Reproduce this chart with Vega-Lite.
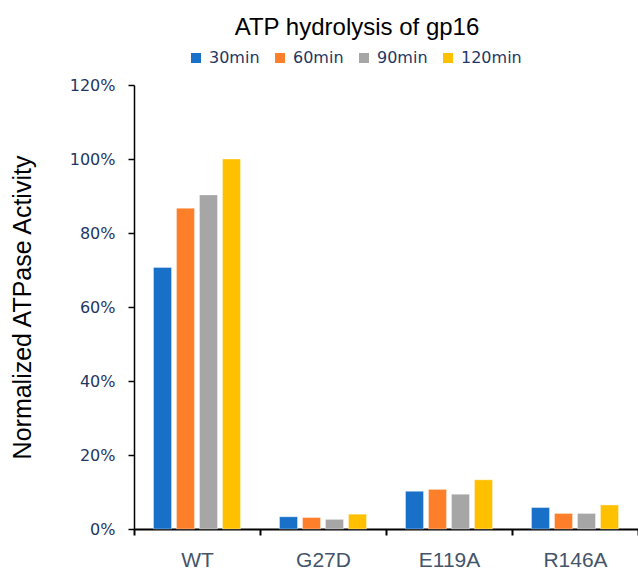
{
  "$schema": "https://vega.github.io/schema/vega-lite/v6.json",
  "width": 504,
  "height": 444,
  "autosize": {"type": "none"},
  "padding": {"left": 134, "top": 85, "right": 0, "bottom": 43},
  "background": "white",
  "title": {
    "text": "ATP hydrolysis of gp16",
    "font": "Liberation Sans",
    "fontSize": 24,
    "fontWeight": "normal",
    "color": "#000000",
    "anchor": "middle",
    "dx": -29,
    "offset": 10
  },
  "data": {
    "values": [
      {"mutant": "WT", "time": "30min", "activity": 0.707},
      {"mutant": "WT", "time": "60min", "activity": 0.867},
      {"mutant": "WT", "time": "90min", "activity": 0.903},
      {"mutant": "WT", "time": "120min", "activity": 1.0},
      {"mutant": "G27D", "time": "30min", "activity": 0.033},
      {"mutant": "G27D", "time": "60min", "activity": 0.031},
      {"mutant": "G27D", "time": "90min", "activity": 0.026},
      {"mutant": "G27D", "time": "120min", "activity": 0.040},
      {"mutant": "E119A", "time": "30min", "activity": 0.102},
      {"mutant": "E119A", "time": "60min", "activity": 0.107},
      {"mutant": "E119A", "time": "90min", "activity": 0.094},
      {"mutant": "E119A", "time": "120min", "activity": 0.133},
      {"mutant": "R146A", "time": "30min", "activity": 0.058},
      {"mutant": "R146A", "time": "60min", "activity": 0.042},
      {"mutant": "R146A", "time": "90min", "activity": 0.042},
      {"mutant": "R146A", "time": "120min", "activity": 0.065}
    ]
  },
  "mark": {"type": "bar", "stroke": "#ffffff", "strokeWidth": 0.6, "strokeOpacity": 0.6},
  "encoding": {
    "x": {
      "field": "mutant",
      "type": "nominal",
      "sort": ["WT", "G27D", "E119A", "R146A"],
      "scale": {"paddingInner": 0, "paddingOuter": 0},
      "axis": {
        "title": null,
        "labelAngle": 0,
        "labelFont": "Liberation Sans",
        "labelFontSize": 21,
        "labelColor": "#44546A",
        "labelPadding": 14,
        "tickBand": "extent",
        "tickSize": 6,
        "tickColor": "#000000",
        "tickWidth": 2,
        "domainColor": "#000000",
        "domainWidth": 2,
        "grid": false
      }
    },
    "xOffset": {
      "field": "time",
      "type": "nominal",
      "sort": ["30min", "60min", "90min", "120min"],
      "scale": {"paddingInner": 0.217, "paddingOuter": 0.848}
    },
    "y": {
      "field": "activity",
      "type": "quantitative",
      "scale": {"domain": [0, 1.2]},
      "axis": {
        "title": "Normalized ATPase Activity",
        "titleFont": "Liberation Sans",
        "titleFontSize": 25,
        "titleFontWeight": "normal",
        "titleColor": "#000000",
        "titlePadding": 34,
        "values": [0, 0.2, 0.4, 0.6, 0.8, 1.0, 1.2],
        "format": ".0%",
        "labelFont": "DejaVu Sans",
        "labelFontSize": 16,
        "labelColor": "#1F3763",
        "labelPadding": 13,
        "tickSize": 6,
        "tickColor": "#000000",
        "tickWidth": 1.5,
        "domainColor": "#000000",
        "domainWidth": 1.5,
        "grid": false
      }
    },
    "color": {
      "field": "time",
      "type": "nominal",
      "sort": ["30min", "60min", "90min", "120min"],
      "scale": {
        "domain": ["30min", "60min", "90min", "120min"],
        "range": ["#1970C8", "#FE7F2A", "#A6A6A6", "#FFC000"]
      },
      "legend": {
        "title": null,
        "orient": "none",
        "direction": "horizontal",
        "legendX": 54,
        "legendY": -35,
        "padding": 0,
        "symbolType": "square",
        "symbolSize": 100,
        "symbolStrokeWidth": 0,
        "symbolOpacity": 1,
        "labelFont": "DejaVu Sans",
        "labelFontSize": 16,
        "labelColor": "#1F3763",
        "labelOffset": 5,
        "columnPadding": 12
      }
    }
  },
  "config": {"view": {"stroke": null}}
}
